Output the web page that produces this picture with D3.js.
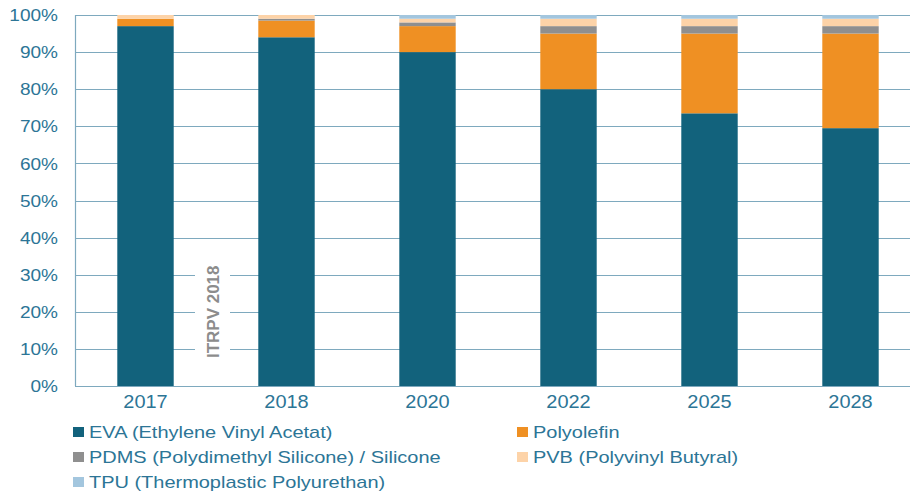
<!DOCTYPE html>
<html>
<head>
<meta charset="utf-8">
<script src="https://cdn.jsdelivr.net/npm/d3@7"></script>
<style>
  body { margin: 0; background: #fff; }
  text { font-family: "Liberation Sans", Arial, sans-serif; }
</style>
</head>
<body>
<div id="chart"></div>
<script>
var years = ["2017", "2018", "2020", "2022", "2025", "2028"];
var seriesNames = ["EVA (Ethylene Vinyl Acetat)", "Polyolefin", "PDMS (Polydimethyl Silicone) / Silicone", "PVB (Polyvinyl Butyral)", "TPU (Thermoplastic Polyurethan)"];
var eva = [97, 94, 90, 80, 73.5, 69.5];
var polyolefin = [2, 4.5, 7, 15, 21.5, 25.5];
var pdms = [0, 0.5, 1, 2, 2, 2];
var pvb = [1, 1, 1, 2, 2, 2];
var tpu = [0, 0, 1, 1, 1, 1];
var yTicks = [0, 10, 20, 30, 40, 50, 60, 70, 80, 90, 100];
var colors = ["#12627c", "#ef9023", "#8f8f8f", "#fdd3a8", "#a3c6de"];

var width = 910, height = 493;
var margin = {top: 15, right: -11, bottom: 107, left: 75};
var innerW = width - margin.left - margin.right;
var innerH = height - margin.top - margin.bottom;

var data = years.map(function(y, i) {
    return {year: y, s0: eva[i], s1: polyolefin[i], s2: pdms[i], s3: pvb[i], s4: tpu[i]};
});
var keys = ["s0", "s1", "s2", "s3", "s4"];
var stacked = d3.stack().keys(keys)(data);

var svg = d3.select("#chart").append("svg")
    .attr("width", width)
    .attr("height", height);

var g = svg.append("g")
    .attr("transform", "translate(" + margin.left + "," + margin.top + ")");

var x = d3.scaleBand().domain(years).range([0, innerW]).paddingInner(0.6).paddingOuter(0.3);
var y = d3.scaleLinear().domain([0, 100]).range([innerH, 0]);

var gridColor = "#7ea9be";
var textColor = "#2c7596";

// gridlines
g.selectAll(".grid")
    .data(yTicks)
    .enter()
    .append("line")
    .attr("class", "grid")
    .attr("x1", 0)
    .attr("x2", innerW)
    .attr("y1", function(d) { return Math.round(y(d)) + 0.5; })
    .attr("y2", function(d) { return Math.round(y(d)) + 0.5; })
    .attr("stroke", gridColor)
    .attr("stroke-width", 1.2);

// left axis line
g.append("line")
    .attr("x1", 0.5).attr("x2", 0.5)
    .attr("y1", y(100)).attr("y2", y(0))
    .attr("stroke", gridColor)
    .attr("stroke-width", 1.2);

// y tick labels (source text is a bit stretched horizontally)
g.selectAll(".ylab")
    .data(yTicks)
    .enter()
    .append("text")
    .attr("class", "ylab")
    .attr("transform", function(d) { return "translate(-17," + y(d) + ") scale(1.12,1)"; })
    .attr("dy", "0.36em")
    .attr("text-anchor", "end")
    .style("font-size", "17px")
    .style("fill", textColor)
    .text(function(d) { return d + "%"; });

// bars
g.selectAll(".layer")
    .data(stacked)
    .enter()
    .append("g")
    .attr("class", "layer")
    .attr("fill", function(d, i) { return colors[i]; })
    .selectAll("rect")
    .data(function(d) { return d; })
    .enter()
    .append("rect")
    .attr("x", function(d) { return x(d.data.year); })
    .attr("y", function(d) { return y(d[1]); })
    .attr("width", x.bandwidth())
    .attr("height", function(d) { return y(d[0]) - y(d[1]); });

// x labels
g.selectAll(".xlab")
    .data(years)
    .enter()
    .append("text")
    .attr("class", "xlab")
    .attr("transform", function(d) { return "translate(" + (x(d) + x.bandwidth() / 2) + "," + (innerH + 22) + ") scale(1.05,1)"; })
    .attr("text-anchor", "middle")
    .style("font-size", "19px")
    .style("fill", textColor)
    .text(function(d) { return d; });

// watermark
var wx = 138, wy = y(20);
g.append("rect")
    .attr("x", wx - 18).attr("y", wy - 60)
    .attr("width", 35).attr("height", 120)
    .attr("fill", "#fff");
g.append("text")
    .attr("transform", "translate(" + (wx + 6) + "," + wy + ") rotate(-90)")
    .attr("text-anchor", "middle")
    .style("font-size", "17px")
    .style("font-weight", "bold")
    .style("fill", "#8c8c8c")
    .text("ITRPV 2018");

// legend
var legendPos = [[73, 432], [517, 432], [73, 457], [517, 457], [73, 482]];
var legend = svg.selectAll(".legend")
    .data(seriesNames)
    .enter()
    .append("g")
    .attr("class", "legend")
    .attr("transform", function(d, i) { return "translate(" + legendPos[i][0] + "," + legendPos[i][1] + ")"; });

legend.append("rect")
    .attr("x", 0).attr("y", -5)
    .attr("width", 11).attr("height", 10)
    .attr("fill", function(d, i) { return colors[i]; });

legend.append("text")
    .attr("transform", "translate(16,0) scale(1.175,1)")
    .attr("dy", "0.36em")
    .style("font-size", "17px")
    .style("fill", textColor)
    .text(function(d) { return d; });
</script>
</body>
</html>
